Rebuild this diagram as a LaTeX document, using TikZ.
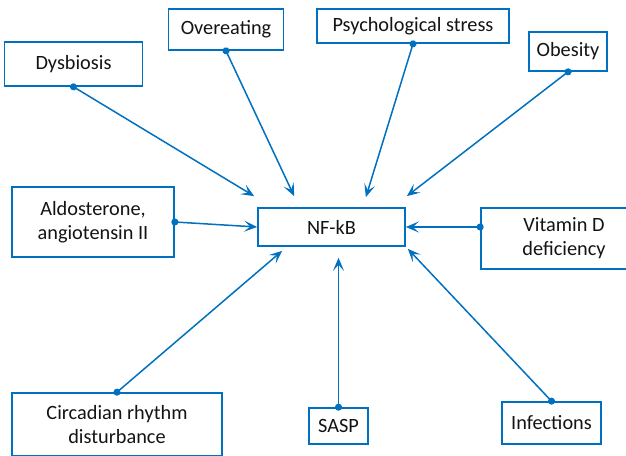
\documentclass[tikz,border=0pt]{standalone}
\usepackage{fontspec}
\setmainfont{Carlito}
\usepackage{tikz}
\usetikzlibrary{arrows.meta,positioning,calc}
\definecolor{nfkbBlue}{RGB}{0,112,192}
\definecolor{nfkbText}{RGB}{20,20,20}

\begin{document}
\begin{tikzpicture}[
    x=1pt, y=-1pt,
    box/.style={draw=nfkbBlue, line width=1.7pt, fill=white, align=center, inner sep=0pt,
      text=nfkbText, font=\fontsize{20.3}{24}\selectfont},
    link/.style={{Circle[length=7pt]}-{Stealth[length=13pt, width=11pt, inset=6pt]},
      shorten <=-3.5pt, line width=1.5pt, nfkbBlue}
  ]
    \path[use as bounding box, clip] (0,0) rectangle (626,455);
    % hub
    \node[box, minimum width=147pt, minimum height=38pt] (nfkb) at (331.5,227) {NF-kB};
    % causes
    \node[box, minimum width=138pt, minimum height=44pt] (dys) at (73.5,64) {Dysbiosis};
    \node[box, minimum width=115pt, minimum height=41pt] (over) at (226,29.5) {Overeating};
    \node[box, minimum width=192pt, minimum height=34pt] (psy) at (413,26) {Psychological stress};
    \node[box, minimum width=78pt, minimum height=39pt] (obe) at (568,51.5) {Obesity};
    \node[box, minimum width=162pt, minimum height=70pt] (ald) at (93,222) {Aldosterone,\\angiotensin II};
    \node[box, minimum width=166pt, minimum height=61pt] (vitd) at (564,238.5) {Vitamin D\\deficiency};
    \node[box, minimum width=210pt, minimum height=63pt] (circ) at (117,424.5) {Circadian rhythm\\disturbance};
    \node[box, minimum width=59pt, minimum height=36pt] (sasp) at (338.5,426) {SASP};
    \node[box, minimum width=99pt, minimum height=42pt] (inf) at (551.5,423) {Infections};
    % arrows into NF-kB
    \draw[link] (dys.south) -- ($(nfkb.north west)+(-3,-11)$);
    \draw[link] (over.south) -- ($(nfkb.north west)+(37,-11)$);
    \draw[link] (psy.south) -- ($(nfkb.north east)+(-40,-10)$);
    \draw[link] (obe.south) -- ($(nfkb.north east)+(1,-11)$);
    \draw[link] (ald.east) -- (nfkb.west);
    \draw[link] (nfkb.east -| vitd.west) -- (nfkb.east);
    \draw[link] (circ.north) -- ($(nfkb.south west)+(25,4)$);
    \draw[link] (sasp.north) -- ($(sasp.north |- nfkb.south)+(0,11)$);
    \draw[link] (inf.north) -- ($(nfkb.south east)+(2,2)$);
\end{tikzpicture}
\end{document}
